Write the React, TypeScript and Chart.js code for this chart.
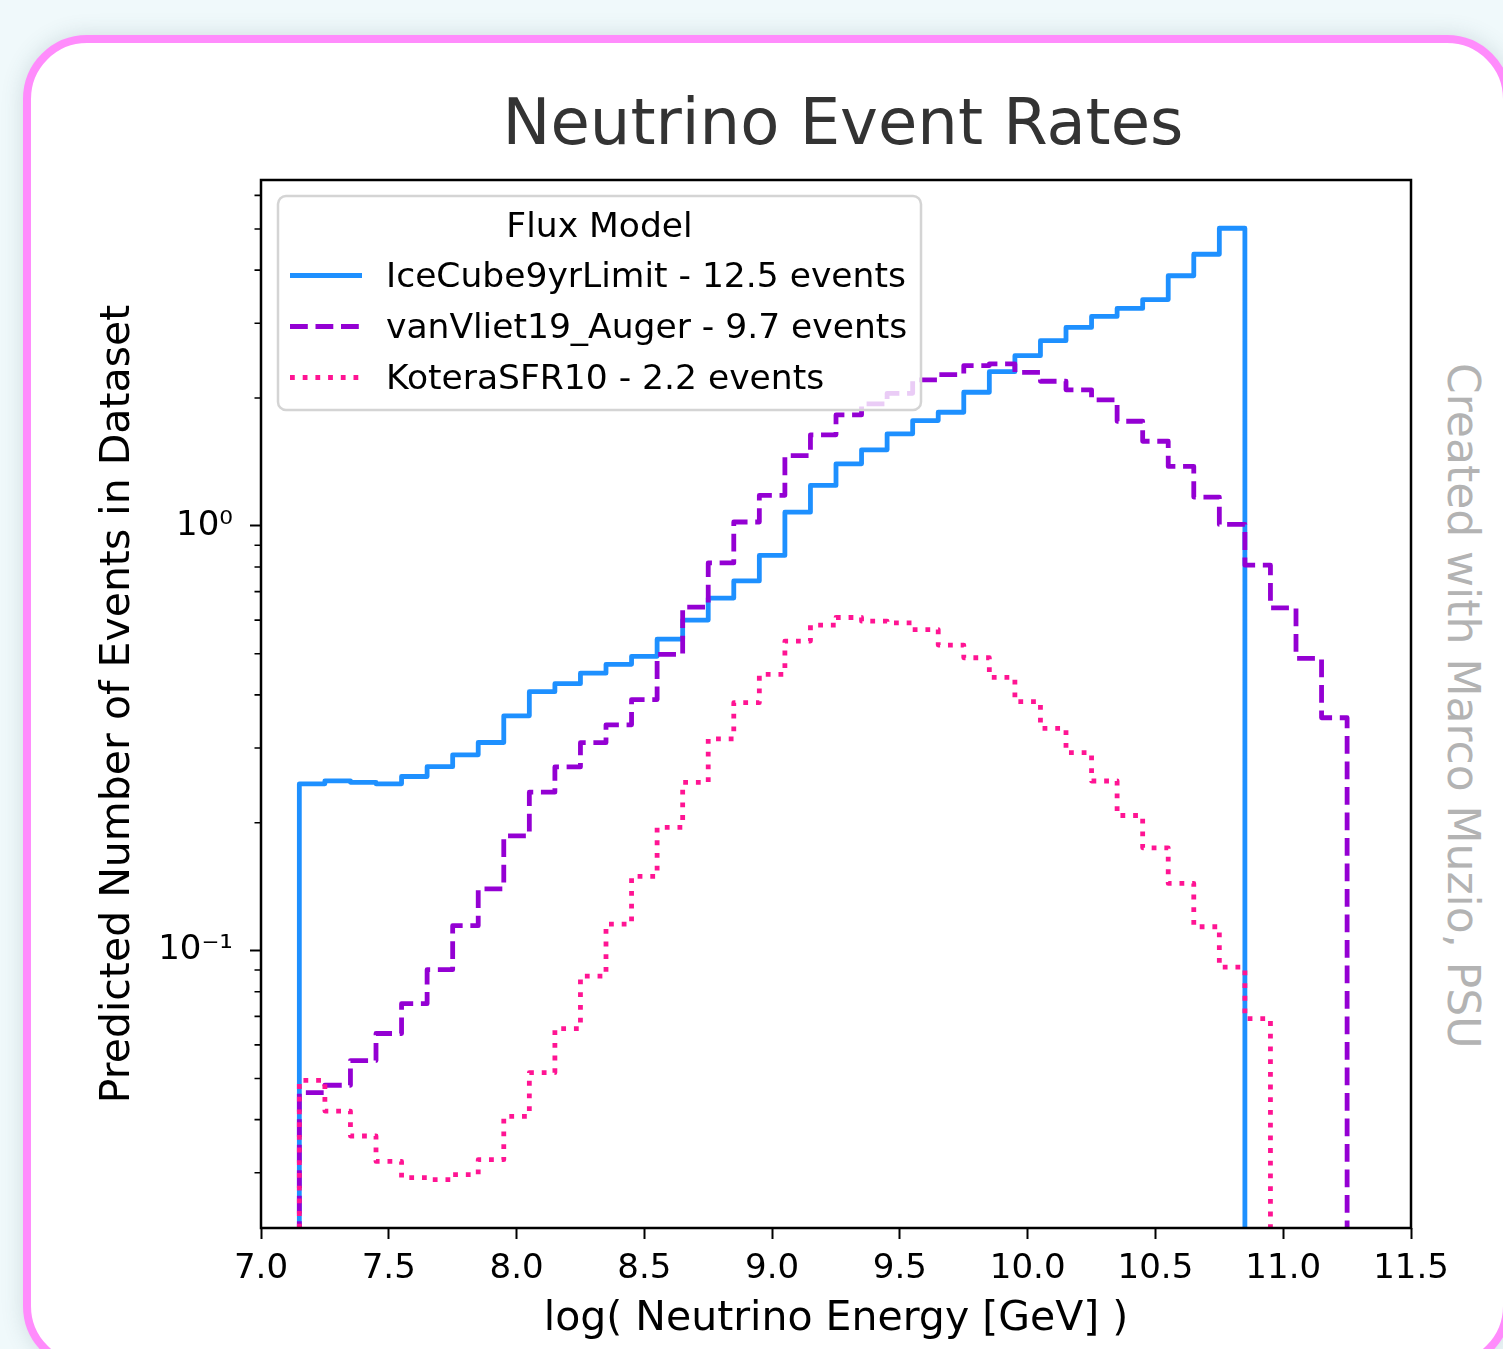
import React, { useEffect, useRef } from 'react';
import { Chart, registerables } from 'chart.js';

Chart.register(...registerables);

// ---------------- data ----------------
const binEdges = [
  7.15, 7.25, 7.35, 7.45, 7.55, 7.65, 7.75, 7.85, 7.95, 8.05,
  8.15, 8.25, 8.35, 8.45, 8.55, 8.65, 8.75, 8.85, 8.95, 9.05,
  9.15, 9.25, 9.35, 9.45, 9.55, 9.65, 9.75, 9.85, 9.95, 10.05,
  10.15, 10.25, 10.35, 10.45, 10.55, 10.65, 10.75, 10.85, 10.95, 11.05,
  11.15, 11.25,
];

const iceCube9yrLimit = [
  0.247, 0.251, 0.249, 0.247, 0.257, 0.271, 0.289, 0.309, 0.357, 0.407,
  0.425, 0.45, 0.472, 0.493, 0.541, 0.6, 0.676, 0.742, 0.852, 1.077,
  1.245, 1.4, 1.51, 1.647, 1.77, 1.851, 2.063, 2.307, 2.516, 2.729,
  2.932, 3.112, 3.25, 3.41, 3.88, 4.36, 5.02,
];

const vanVliet19Auger = [
  0.0463, 0.0482, 0.0551, 0.0638, 0.075, 0.0902, 0.1145, 0.1398, 0.1863, 0.236,
  0.2707, 0.3087, 0.34, 0.39, 0.498, 0.644, 0.818, 1.021, 1.18, 1.464,
  1.638, 1.825, 1.937, 2.051, 2.206, 2.27, 2.384, 2.406, 2.298, 2.19,
  2.09, 1.98, 1.763, 1.582, 1.38, 1.169, 1.008, 0.808, 0.641, 0.4875,
  0.3534,
];

const koteraSFR10 = [
  0.0495, 0.0419, 0.0366, 0.0319, 0.0292, 0.0289, 0.0297, 0.0322, 0.0407, 0.0516,
  0.0655, 0.0871, 0.1155, 0.1495, 0.195, 0.249, 0.315, 0.3834, 0.447, 0.5354,
  0.5836, 0.6085, 0.5965, 0.591, 0.57, 0.524, 0.4892, 0.4396, 0.3855, 0.3337,
  0.2924, 0.2508, 0.208, 0.1746, 0.1439, 0.1138, 0.0914, 0.0692,
];

const seriesLabels = [
  'IceCube9yrLimit - 12.5 events',
  'vanVliet19_Auger - 9.7 events',
  'KoteraSFR10 - 2.2 events',
];
const legendTitle = 'Flux Model';
const chartTitle = 'Neutrino Event Rates';
const xAxisTitle = 'log( Neutrino Energy [GeV] )';
const yAxisTitle = 'Predicted Number of Events in Dataset';
const watermark = 'Created with Marco Muzio, PSU';

const xTickValues = [7.0, 7.5, 8.0, 8.5, 9.0, 9.5, 10.0, 10.5, 11.0, 11.5];
const xTickLabels = ['7.0', '7.5', '8.0', '8.5', '9.0', '9.5', '10.0', '10.5', '11.0', '11.5'];
const yMajorTicks = [0.1, 1];
const yMajorLabels = ['10\u207B\u00B9', '10\u2070'];
const yMinorTicks = [
  0.03, 0.04, 0.05, 0.06, 0.07, 0.08, 0.09,
  0.2, 0.3, 0.4, 0.5, 0.6, 0.7, 0.8, 0.9,
  2, 3, 4, 5, 6,
];

const X_MIN = 7.0;
const X_MAX = 11.5;
const Y_MIN = 0.02223;
const Y_MAX = 6.52;
const HIST_FLOOR = 1e-3; // histogram base (zero), below the visible range

const FONT = '"DejaVu Sans", "Liberation Sans", sans-serif';

// step outline built from bin edges + bin values
function stepPoints(values: number[]) {
  const pts: { x: number; y: number }[] = [{ x: binEdges[0], y: HIST_FLOOR }];
  values.forEach((v, i) => pts.push({ x: binEdges[i], y: v }));
  pts.push({ x: binEdges[values.length], y: HIST_FLOOR });
  return pts;
}

const decorPlugin = {
  id: 'decor',
  afterDatasetsDraw(chart: any) {
    const ctx = chart.ctx as CanvasRenderingContext2D;
    const { left, top } = chart.chartArea;
    const bx = left + 17;
    const by = top + 16;
    const bw = 643;
    const bh = 214;
    ctx.save();
    ctx.beginPath();
    (ctx as any).roundRect(bx, by, bw, bh, 8);
    ctx.fillStyle = 'rgba(255,255,255,0.8)';
    ctx.fill();
    ctx.lineWidth = 2.5;
    ctx.strokeStyle = '#d4d4d4';
    ctx.stroke();

    ctx.fillStyle = '#000';
    ctx.font = `34.5px ${FONT}`;
    ctx.textBaseline = 'middle';
    ctx.textAlign = 'center';
    ctx.fillText(legendTitle, bx + bw / 2, by + 32);

    const rows = [78.5, 129.5, 180.5];
    const legendOrder = [0, 1, 2];
    legendOrder.forEach((di, r) => {
      const ds = chart.data.datasets[di];
      const y = by + rows[r];
      ctx.beginPath();
      ctx.setLineDash(ds.borderDash || []);
      ctx.lineDashOffset = 0;
      ctx.lineCap = 'butt';
      ctx.lineWidth = ds.borderWidth;
      ctx.strokeStyle = ds.borderColor;
      ctx.moveTo(bx + 12, y + 1);
      ctx.lineTo(bx + 84, y + 1);
      ctx.stroke();
      ctx.setLineDash([]);
      ctx.fillStyle = '#000';
      ctx.textAlign = 'left';
      ctx.fillText(ds.label, bx + 108, y + 4);
    });
    ctx.restore();
  },
  afterDraw(chart: any) {
    const ctx = chart.ctx as CanvasRenderingContext2D;
    const { left, top, right, bottom } = chart.chartArea;
    const yScale = chart.scales.y;
    ctx.save();
    // minor y ticks
    ctx.strokeStyle = '#000';
    ctx.lineWidth = 1.6;
    ctx.beginPath();
    yMinorTicks.forEach((v) => {
      const py = yScale.getPixelForValue(v);
      ctx.moveTo(left - 6.5, py);
      ctx.lineTo(left, py);
    });
    ctx.stroke();
    // frame
    ctx.lineWidth = 2.5;
    ctx.strokeRect(left, top, right - left, bottom - top);
    // title
    ctx.fillStyle = '#333';
    ctx.font = `64px ${FONT}`;
    ctx.textAlign = 'center';
    ctx.textBaseline = 'middle';
    ctx.fillText(chartTitle, 843, 127);
    ctx.restore();
  },
};

export default function App() {
  const ref = useRef<HTMLCanvasElement>(null);

  useEffect(() => {
    if (!ref.current) return;
    const chart = new Chart(ref.current, {
      type: 'line',
      data: {
        datasets: [
          {
            label: seriesLabels[0],
            data: stepPoints(iceCube9yrLimit),
            borderColor: '#1e90ff',
            borderWidth: 4.8,
            borderDash: [],
            stepped: 'before',
            pointRadius: 0,
            fill: false,
            borderJoinStyle: 'round',
            order: 3,
          },
          {
            label: seriesLabels[1],
            data: stepPoints(vanVliet19Auger),
            borderColor: '#9400d3',
            borderWidth: 4.8,
            borderDash: [17.8, 7.7],
            stepped: 'before',
            pointRadius: 0,
            fill: false,
            borderJoinStyle: 'round',
            order: 2,
          },
          {
            label: seriesLabels[2],
            data: stepPoints(koteraSFR10),
            borderColor: '#ff1493',
            borderWidth: 4.8,
            borderDash: [4.8, 7.9],
            stepped: 'before',
            pointRadius: 0,
            fill: false,
            borderJoinStyle: 'round',
            order: 1,
          },
        ] as any,
      },
      options: {
        animation: false,
        responsive: false,
        devicePixelRatio: 1,
        events: [],
        layout: { padding: { left: 90, top: 180, right: 92, bottom: 1 } },
        plugins: {
          legend: { display: false },
          title: { display: false },
          tooltip: { enabled: false },
        },
        scales: {
          x: {
            type: 'linear',
            min: X_MIN,
            max: X_MAX,
            afterBuildTicks: (s: any) => {
              s.ticks = xTickValues.map((v) => ({ value: v }));
            },
            afterFit: (s: any) => {
              s.height = 120;
              s.paddingLeft = 0;
              s.paddingRight = 0;
            },
            ticks: {
              autoSkip: false,
              maxRotation: 0,
              minRotation: 0,
              padding: 10,
              color: '#000',
              font: { family: FONT, size: 34 },
              callback: (v: any) => {
                const i = xTickValues.findIndex((t) => Math.abs(t - Number(v)) < 1e-9);
                return i >= 0 ? xTickLabels[i] : '';
              },
            },
            grid: {
              display: true,
              drawOnChartArea: false,
              drawTicks: true,
              tickLength: 11,
              tickWidth: 2,
              tickColor: '#000',
            },
            border: { display: false },
            title: {
              display: true,
              text: xAxisTitle,
              color: '#000',
              font: { family: FONT, size: 41 },
              padding: { top: 4, bottom: 4 },
            },
          },
          y: {
            type: 'logarithmic',
            min: Y_MIN,
            max: Y_MAX,
            afterBuildTicks: (s: any) => {
              s.ticks = [...yMinorTicks, ...yMajorTicks]
                .sort((a, b) => a - b)
                .map((v) => ({ value: v }));
            },
            afterFit: (s: any) => {
              s.width = 171;
              s.paddingTop = 0;
              s.paddingBottom = 0;
            },
            ticks: {
              autoSkip: false,
              padding: 17,
              color: '#000',
              font: { family: FONT, size: 34 },
              callback: (v: any) => {
                const i = yMajorTicks.findIndex((t) => Math.abs(t - Number(v)) < 1e-9);
                return i >= 0 ? yMajorLabels[i] : '';
              },
            },
            grid: {
              display: true,
              drawOnChartArea: false,
              drawTicks: true,
              tickLength: 11,
              tickWidth: 2,
              tickColor: (c: any) =>
                c.tick && yMajorTicks.some((t) => Math.abs(t - c.tick.value) < 1e-9)
                  ? '#000'
                  : 'rgba(0,0,0,0)',
            },
            border: { display: false },
            title: {
              display: true,
              text: yAxisTitle,
              color: '#000',
              font: { family: FONT, size: 41 },
              padding: { top: 4, bottom: 4 },
            },
          },
        },
      } as any,
      plugins: [decorPlugin],
    });
    return () => chart.destroy();
  }, []);

  return (
    <div
      style={{
        position: 'absolute',
        left: 0,
        top: 0,
        width: 1503,
        height: 1349,
        overflow: 'hidden',
        background: '#f0f9fb',
      }}
    >
      <div
        style={{
          position: 'absolute',
          left: 23,
          top: 35,
          width: 1488,
          height: 1335,
          boxSizing: 'border-box',
          border: '8px solid #ff8cfc',
          borderRadius: 64,
          background: '#ffffff',
          boxShadow: '0 0 22px rgba(60,90,100,0.18)',
        }}
      />
      <div
        style={{
          position: 'absolute',
          left: 1441,
          top: 363,
          writingMode: 'vertical-rl',
          fontFamily: FONT,
          fontSize: 44,
          lineHeight: 1,
          color: '#b3b3b3',
          whiteSpace: 'nowrap',
        }}
      >
        {watermark}
      </div>
      <canvas
        ref={ref}
        width={1503}
        height={1349}
        style={{ position: 'absolute', left: 0, top: 0, width: 1503, height: 1349 }}
      />
    </div>
  );
}
